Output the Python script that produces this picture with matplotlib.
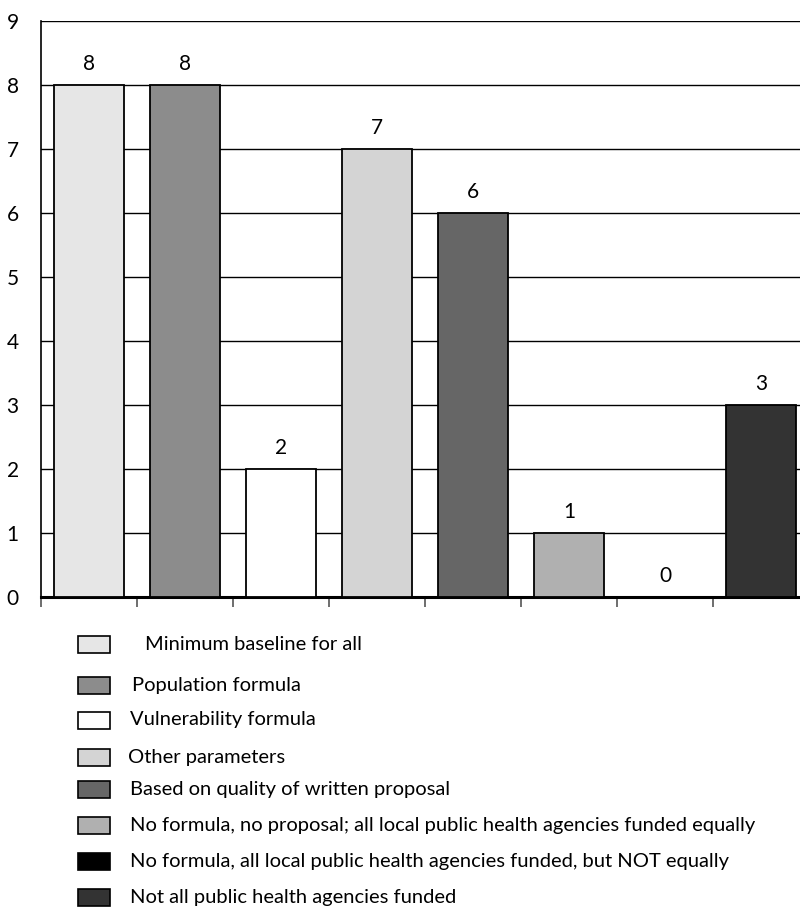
import matplotlib
matplotlib.use("Agg")
import matplotlib.pyplot as plt
from matplotlib.patches import Rectangle

categories = [
    "Minimum baseline for all",
    "Population formula",
    "Vulnerability formula",
    "Other parameters",
    "Based on quality of written proposal",
    "No formula, no proposal; all local public health agencies funded equally",
    "No formula, all local public health agencies funded, but NOT equally",
    "Not all public health agencies funded",
]
counts = [8, 8, 2, 7, 6, 1, 0, 3]
colors = ["#e6e6e6", "#8c8c8c", "#ffffff", "#d4d4d4",
          "#666666", "#b0b0b0", "#000000", "#333333"]
y_ticks = list(range(0, 10))

plt.rcParams["font.family"] = ["Lato", "DejaVu Sans"]

W, H = 800, 911
fig = plt.figure(figsize=(W / 100, H / 100), dpi=100)
ax = fig.add_axes([41 / W, 1 - 597 / H, 768 / W, 576 / H])

x = list(range(len(counts)))
ax.bar(x, counts, width=0.73, color=colors, edgecolor="black",
       linewidth=1.3, zorder=3)
for xi, v in zip(x, counts):
    ax.annotate(f"{v}", (xi, v), xytext=(0, 8), textcoords="offset points",
                ha="center", va="bottom", fontsize=15)

ax.set_xlim(-0.5, len(counts) - 0.5)
ax.set_ylim(0, 9)
ax.set_yticks(y_ticks)
ax.set_yticklabels([str(t) for t in y_ticks], fontsize=15)
ax.yaxis.grid(True, color="black", linewidth=1.0, zorder=0)
ax.set_axisbelow(True)
ax.tick_params(axis="y", length=0, pad=16)
ax.set_xticks([i - 0.5 for i in range(len(counts))])
ax.set_xticklabels([])
ax.tick_params(axis="x", direction="out", length=7, width=1.2, color="#555555")
for s in ("top", "right"):
    ax.spines[s].set_visible(False)
ax.spines["left"].set_linewidth(1.2)
ax.spines["bottom"].set_linewidth(2.2)

# Legend drawn row by row below the axes
text_x = [145, 132, 130, 128, 130, 130, 130, 130]
row_y = [644, 685, 720, 757, 789, 825, 861, 897]
for lab, col, tx, ry in zip(categories, colors, text_x, row_y):
    fig.add_artist(Rectangle((78 / W, 1 - (ry + 9) / H), 32 / W, 17 / H,
                             transform=fig.transFigure, facecolor=col,
                             edgecolor="black", linewidth=1.2))
    fig.text(tx / W, 1 - ry / H, lab, ha="left", va="center", fontsize=14.5)

fig.savefig("out.png", dpi=100)
